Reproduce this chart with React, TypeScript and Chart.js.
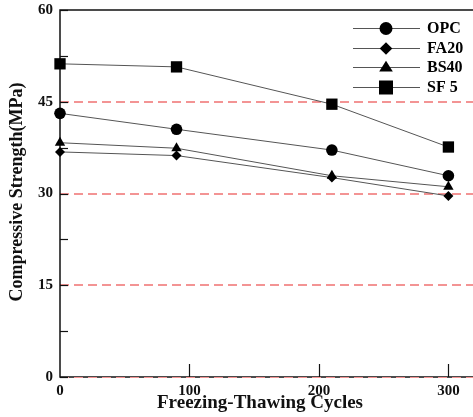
import React, { useEffect, useRef } from "react";
import { Chart, registerables } from "chart.js";

Chart.register(...registerables);

const cycles = [0, 90, 210, 300];
const opc = [43.1, 40.5, 37.1, 32.9];
const fa20 = [36.8, 36.2, 32.6, 29.6];
const bs40 = [38.3, 37.4, 32.9, 31.1];
const sf5 = [51.2, 50.7, 44.6, 37.6];
const seriesNames = ["OPC", "FA20", "BS40", "SF 5"];
const seriesStyles = ["circle", "rectRot", "triangle", "rect"];
const dashedLevels = [0, 15, 30, 45];
const xTickValues = [0, 100, 200, 300];
const yTickValues = [0, 15, 30, 45, 60];
const xTitle = "Freezing-Thawing Cycles";
const yTitle = "Compressive Strength(MPa)";

const SERIF = "'Liberation Serif', 'DejaVu Serif', serif";
const DASH_COLOR = "#f39494";

function drawMarker(ctx: CanvasRenderingContext2D, style: string, x: number, y: number, r: number) {
  ctx.beginPath();
  if (style === "circle") {
    ctx.arc(x, y, r, 0, Math.PI * 2);
  } else if (style === "rect") {
    ctx.rect(x - r, y - r, 2 * r, 2 * r);
  } else if (style === "rectRot") {
    ctx.moveTo(x, y - r);
    ctx.lineTo(x + r, y);
    ctx.lineTo(x, y + r);
    ctx.lineTo(x - r, y);
    ctx.closePath();
  } else if (style === "triangle") {
    ctx.moveTo(x, y - r);
    ctx.lineTo(x + r, y + r * 0.6);
    ctx.lineTo(x - r, y + r * 0.6);
    ctx.closePath();
  }
  ctx.fill();
}

const framePlugin = {
  id: "frame",
  beforeDatasetsDraw(chart: any) {
    const { ctx, chartArea: a, scales } = chart;
    const x = scales.x;
    const y = scales.y;
    ctx.save();
    // dashed red reference lines
    ctx.strokeStyle = DASH_COLOR;
    ctx.lineWidth = 2;
    ctx.setLineDash([9, 5]);
    for (const v of dashedLevels) {
      if (v === 0) continue;
      const py = Math.round(y.getPixelForValue(v));
      ctx.beginPath();
      ctx.moveTo(a.left, py);
      ctx.lineTo(a.right, py);
      ctx.stroke();
    }
    ctx.setLineDash([]);
    // frame (left, top, bottom)
    ctx.strokeStyle = "#111";
    ctx.lineWidth = 1.5;
    ctx.beginPath();
    ctx.moveTo(a.right + 2, a.top);
    ctx.lineTo(a.left, a.top);
    ctx.lineTo(a.left, a.bottom);
    ctx.lineTo(a.right + 2, a.bottom);
    ctx.stroke();
    // dashed red at 0 over the axis
    ctx.strokeStyle = DASH_COLOR;
    ctx.lineWidth = 1;
    ctx.setLineDash([9, 5]);
    {
      const py = Math.round(y.getPixelForValue(0)) + 0.5;
      ctx.beginPath();
      ctx.moveTo(a.left, py);
      ctx.lineTo(a.right, py);
      ctx.stroke();
    }
    ctx.setLineDash([]);
    // y ticks (major and minor) inward
    ctx.strokeStyle = "#111";
    ctx.lineWidth = 1.2;
    for (let v = 0; v <= 60; v += 7.5) {
      const py = Math.round(y.getPixelForValue(v)) + 0.5;
      ctx.beginPath();
      ctx.moveTo(a.left, py);
      ctx.lineTo(a.left + 8, py);
      ctx.stroke();
    }
    // x ticks inward
    for (const v of xTickValues) {
      if (v === 0) continue;
      const px = Math.round(x.getPixelForValue(v)) + 0.5;
      ctx.beginPath();
      ctx.moveTo(px, a.bottom);
      ctx.lineTo(px, a.bottom - 13);
      ctx.stroke();
    }
    // axis titles
    ctx.fillStyle = "#111";
    ctx.textAlign = "center";
    ctx.textBaseline = "alphabetic";
    ctx.font = `bold 19px ${SERIF}`;
    ctx.fillText(xTitle, 260, 408);
    ctx.save();
    ctx.translate(22, 192);
    ctx.rotate(-Math.PI / 2);
    ctx.font = `bold 18px ${SERIF}`;
    ctx.fillText(yTitle, 0, 0);
    ctx.restore();
    ctx.restore();
  },
  afterDatasetsDraw(chart: any) {
    const { ctx } = chart;
    ctx.save();
    const sizes = [6.5, 6.3, 6.8, 7];
    seriesNames.forEach((name, i) => {
      const cy = Math.round(28 + 19.6 * i);
      ctx.strokeStyle = "#555";
      ctx.lineWidth = 1;
      ctx.beginPath();
      ctx.moveTo(353, cy + 0.5);
      ctx.lineTo(420, cy + 0.5);
      ctx.stroke();
      ctx.fillStyle = "#000";
      drawMarker(ctx, seriesStyles[i], 386, cy + 0.5, sizes[i]);
      ctx.font = `bold 16px ${SERIF}`;
      ctx.textAlign = "left";
      ctx.textBaseline = "middle";
      ctx.fillText(name, 427, cy + 1);
    });
    ctx.restore();
  },
};

export default function App() {
  const ref = useRef<HTMLCanvasElement | null>(null);

  useEffect(() => {
    if (!ref.current) return;
    const mk = (label: string, data: number[], style: string, radius: number) => ({
      label,
      data: cycles.map((c, i) => ({ x: c, y: data[i] })),
      borderColor: "#555",
      borderWidth: 1,
      backgroundColor: "#000",
      pointBackgroundColor: "#000",
      pointBorderColor: "#000",
      pointBorderWidth: 0,
      pointStyle: style,
      pointRadius: radius,
      tension: 0,
      clip: 12,
    });
    const chart = new Chart(ref.current, {
      type: "line",
      data: {
        datasets: [
          mk(seriesNames[0], opc, "circle", 5.8),
          mk(seriesNames[1], fa20, "rectRot", 5),
          mk(seriesNames[2], bs40, "triangle", 6),
          mk(seriesNames[3], sf5, "rect", 8),
        ],
      },
      options: {
        animation: false,
        responsive: false,
        devicePixelRatio: 1,
        layout: { autoPadding: false, padding: { top: 10, right: 0, left: 0, bottom: 0 } },
        plugins: { legend: { display: false }, tooltip: { enabled: false } },
        scales: {
          x: {
            type: "linear",
            min: 0,
            max: 319,
            afterBuildTicks: (s: any) => {
              s.ticks = xTickValues.map((v) => ({ value: v }));
            },
            ticks: {
              padding: 5,
              color: "#111",
              font: { family: SERIF, size: 15, weight: "bold" },
            },
            grid: { display: false, drawTicks: false },
            border: { display: false },
            afterFit: (s: any) => {
              s.height = 40;
              s.paddingLeft = 0;
              s.paddingRight = 0;
            },
          },
          y: {
            type: "linear",
            min: 0,
            max: 60,
            afterBuildTicks: (s: any) => {
              s.ticks = yTickValues.map((v) => ({ value: v }));
            },
            ticks: {
              padding: 7,
              color: "#111",
              font: { family: SERIF, size: 15, weight: "bold" },
            },
            grid: { display: false, drawTicks: false },
            border: { display: false },
            afterFit: (s: any) => {
              s.width = 60;
              s.paddingTop = 0;
              s.paddingBottom = 0;
            },
          },
        },
      },
      plugins: [framePlugin],
    } as any);
    return () => chart.destroy();
  }, []);

  return (
    <div style={{ position: "fixed", left: 0, top: 0, width: 473, height: 417, background: "#fff" }}>
      <canvas ref={ref} width={473} height={417} />
    </div>
  );
}
